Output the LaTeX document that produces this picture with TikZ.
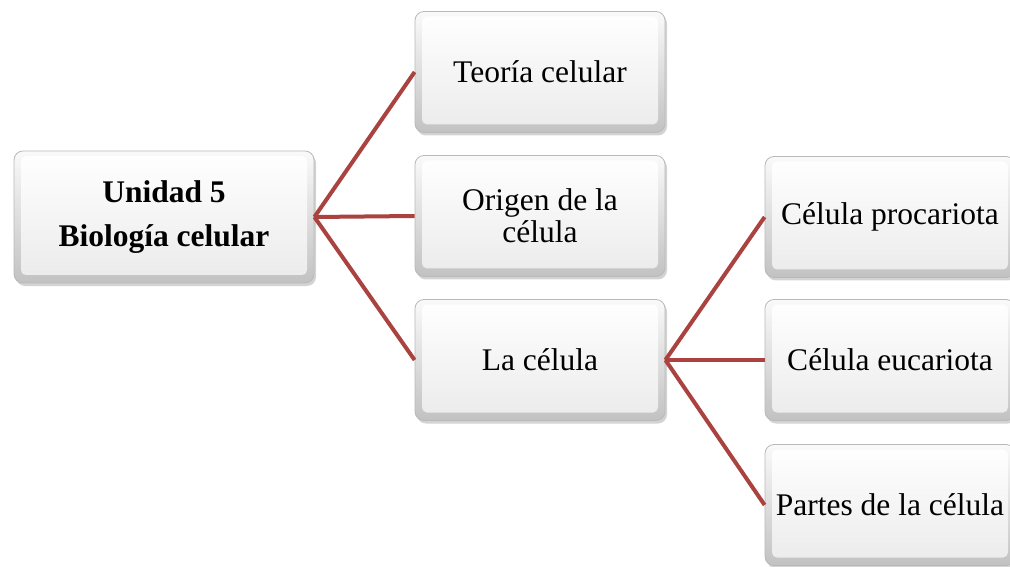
\documentclass[tikz,border=0pt]{standalone}
\usepackage{fontspec}
\setmainfont{Liberation Serif}
\usetikzlibrary{shadows}
\definecolor{linkred}{RGB}{170,66,63}
\tikzset{
  box/.style={
    rounded corners=9pt, draw=gray!55, line width=0.8pt,
    top color=gray!4, bottom color=gray!48,
    drop shadow={opacity=0.35, shadow xshift=2pt, shadow yshift=-3pt},
    minimum width=250pt, minimum height=121pt, inner sep=0pt,
    align=center, text=black,
    font=\fontsize{31.5}{31.7}\selectfont,
    path picture={
      \shade[top color=white, bottom color=gray!16, rounded corners=5pt]
        ([shift={(7pt,-5pt)}]path picture bounding box.north west) rectangle
        ([shift={(-7pt,8pt)}]path picture bounding box.south east);
    }
  },
  rootbox/.style={box, minimum width=300pt, minimum height=132pt,
    font=\fontsize{31.5}{31.7}\selectfont\bfseries},
  link/.style={draw=linkred, line width=4pt}
}
\begin{document}
\begin{tikzpicture}[x=1pt,y=1pt]
\useasboundingbox (0,0) rectangle (1010,566);
\node[rootbox] (root) at (164,349) {Unidad 5\\[12pt]Biología celular};
\node[box] (teo) at (540,494) {Teoría celular};
\node[box] (ori) at (540,350) {Origen de la\\célula};
\node[box] (cel) at (540,206) {La célula};
\node[box] (pro) at (890,349) {Célula procariota};
\node[box] (euc) at (890,206) {Célula eucariota};
\node[box] (par) at (890,61) {Partes de la célula};
\draw[link] (root.east) -- (teo.west);
\draw[link] (root.east) -- (ori.west);
\draw[link] (root.east) -- (cel.west);
\draw[link] (cel.east) -- (pro.west);
\draw[link] (cel.east) -- (euc.west);
\draw[link] (cel.east) -- (par.west);
\end{tikzpicture}
\end{document}
